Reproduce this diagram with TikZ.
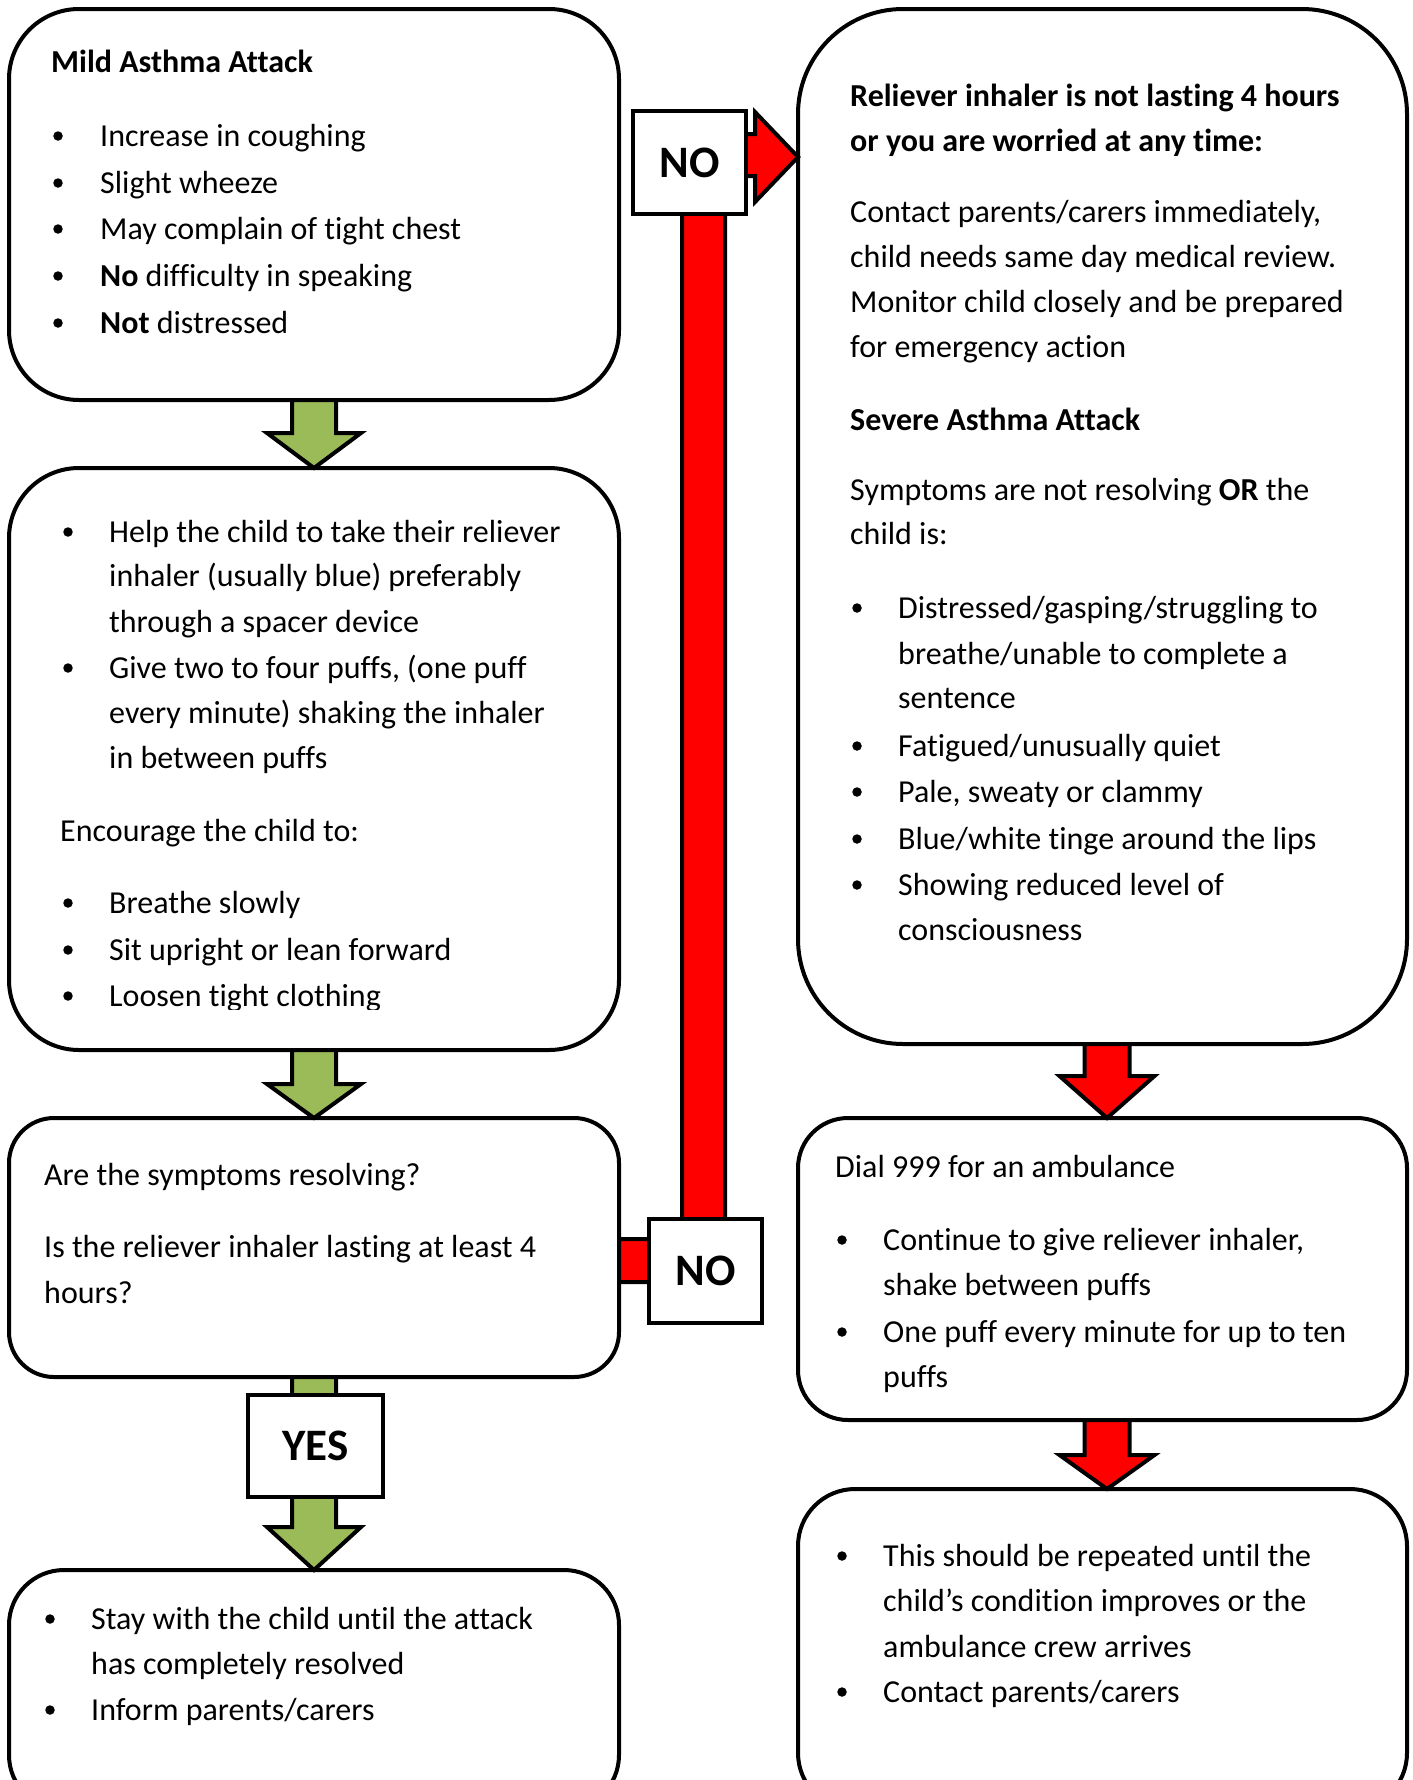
\documentclass[tikz,border=0pt]{standalone}
\usepackage{fontspec}
\setmainfont{Carlito}[Ligatures=NoCommon]
\usetikzlibrary{calc}
\definecolor{agreen}{RGB}{155,187,89}
\definecolor{ared}{RGB}{255,0,0}
\newcounter{lnc}
\newcommand\tl[3]{\stepcounter{lnc}\node[txt] (t\arabic{lnc}) at (#1,{#2+11}) {#3};}
\newcommand\bl[4]{\stepcounter{lnc}\node[bul] (u\arabic{lnc}) at (#1,{#2+1}) {};\node[txt] (t\arabic{lnc}) at (#3,{#2+11}) {#4};}
\begin{document}
\begin{tikzpicture}[x=1pt,y=-1pt,
  box/.style={draw, line width=4pt, fill=white, rounded corners=#1, outer sep=0pt, inner sep=0pt},
  txt/.style={anchor=base west, inner sep=0pt, font=\fontsize{32}{38}\selectfont},
  bul/.style={circle, fill=black, inner sep=0pt, minimum size=9.5pt},
  garrow/.style={draw, line width=4pt, fill=agreen, line join=miter},
  rarrow/.style={draw, line width=4pt, fill=ared, line join=miter},
  tagbox/.style={draw, line width=4pt, fill=white, inner sep=0pt, outer sep=0pt, font=\bfseries\fontsize{45}{50}\selectfont}]
\useasboundingbox (0,0) rectangle (1413,1780);
% boxes
\node[box=70, minimum width=610, minimum height=391] (b1) at (314,204.5) {};
\node[box=70, minimum width=610, minimum height=582] (b2) at (314,759) {};
\node[box=45, minimum width=610, minimum height=259] (b3) at (314,1247.5) {};
\node[box=55, minimum width=610, minimum height=240] (b4) at (314,1690) {};
\node[box=105, minimum width=609, minimum height=1035] (r1) at (1102.5,526.5) {};
\node[box=50, minimum width=609, minimum height=302] (r2) at (1102.5,1269) {};
\node[box=57, minimum width=609, minimum height=321] (r3) at (1102.5,1649.5) {};
% green arrows
\draw[garrow] ($(b1.south)+(-22,0)$) -- ++(0,33) -- ++(-25,0) -- (b2.north) -- ($(b1.south)+(47,33)$) -- ++(-25,0) -- ($(b1.south)+(22,0)$) -- cycle;
\draw[garrow] ($(b2.south)+(-22,0)$) -- ++(0,34) -- ++(-25,0) -- (b3.north) -- ($(b2.south)+(47,34)$) -- ++(-25,0) -- ($(b2.south)+(22,0)$) -- cycle;
\draw[garrow] ($(b3.south)+(-22,0)$) -- ++(0,150) -- ++(-25,0) -- (b4.north) -- ($(b3.south)+(47,150)$) -- ++(-25,0) -- ($(b3.south)+(22,0)$) -- cycle;
% red arrows
\coordinate (r1s) at ($(r1.south)+(4.5,0)$);
\coordinate (r2n) at ($(r2.north)+(4.5,0)$);
\coordinate (r2s) at ($(r2.south)+(4.5,0)$);
\coordinate (r3n) at ($(r3.north)+(4.5,0)$);
\draw[rarrow] ($(r1s)+(-22.5,0)$) -- ++(0,32) -- ++(-25,0) -- (r2n) -- ($(r1s)+(47.5,32)$) -- ++(-25,0) -- ($(r1s)+(22.5,0)$) -- cycle;
\draw[rarrow] ($(r2s)+(-22.5,0)$) -- ++(0,35) -- ++(-25,0) -- (r3n) -- ($(r2s)+(47.5,35)$) -- ++(-25,0) -- ($(r2s)+(22.5,0)$) -- cycle;
% bent red arrow from b3 to r1
\coordinate (nstart) at ($(b3.north east)+(0,121)$);
\coordinate (ntip) at ($(r1.north west)+(0,148)$);
\draw[rarrow] (nstart) -- (682,1239) -- (682,134) -- (755,134) -- (755,112) -- (ntip) -- (755,202) -- (755,176) -- (725,176) -- (725,1282) -- ($(nstart)+(0,43)$) -- cycle;
\node[tagbox, minimum width=113, minimum height=103] (no1) at (689.5,162.5) {NO};
\node[tagbox, minimum width=113, minimum height=104] (no2) at (705.5,1271) {NO};
\node[tagbox, minimum width=135, minimum height=102] (yes) at (315.5,1446) {YES};
% box 1
\tl{51}{61}{\textbf{Mild Asthma Attack}}
\bl{58}{135}{100}{Increase in coughing}
\bl{58}{182}{100}{Slight wheeze}
\bl{58}{228}{100}{May complain of tight chest}
\bl{58}{275}{100}{\textbf{No} difficulty in speaking}
\bl{58}{322}{100}{\textbf{Not} distressed}
% box 2
\bl{68}{531}{109}{Help the child to take their reliever}
\tl{109}{575}{inhaler (usually blue) preferably}
\tl{109}{621}{through a spacer device}
\bl{68}{667}{109}{Give two to four puffs, (one puff}
\tl{109}{712}{every minute) shaking the inhaler}
\tl{109}{757}{in between puffs}
\tl{60}{830}{Encourage the child to:}
\bl{68}{902}{109}{Breathe slowly}
\bl{68}{949}{109}{Sit upright or lean forward}
\begin{scope}
\clip (0,0) rectangle (1413,1009);
\bl{68}{995}{109}{Loosen tight clothing}
\end{scope}
% box 3
\tl{44}{1174}{Are the symptoms resolving?}
\tl{44}{1246}{Is the reliever inhaler lasting at least 4}
\tl{44}{1292}{hours?}
% box 4
\bl{50}{1618}{91}{Stay with the child until the attack}
\tl{91}{1663}{has completely resolved}
\bl{50}{1709}{91}{Inform parents/carers}
% right box 1
\tl{850}{95}{\textbf{Reliever inhaler is not lasting 4 hours}}
\tl{850}{140}{\textbf{or you are worried at any time:}}
\tl{850}{211}{Contact parents/carers immediately,}
\tl{850}{256}{child needs same day medical review.}
\tl{850}{301}{Monitor child closely and be prepared}
\tl{850}{346}{for emergency action}
\tl{850}{419}{\textbf{Severe Asthma Attack}}
\tl{850}{489}{Symptoms are not resolving \textbf{OR} the}
\tl{850}{533}{child is:}
\bl{857}{607}{898}{Distressed/gasping/struggling to}
\tl{898}{653}{breathe/unable to complete a}
\tl{898}{697}{sentence}
\bl{857}{745}{898}{Fatigued/unusually quiet}
\bl{857}{791}{898}{Pale, sweaty or clammy}
\bl{857}{838}{898}{Blue/white tinge around the lips}
\bl{857}{884}{898}{Showing reduced level of}
\tl{898}{929}{consciousness}
% right box 2
\tl{835}{1166}{Dial 999 for an ambulance}
\bl{842}{1239}{883}{Continue to give reliever inhaler,}
\tl{883}{1284}{shake between puffs}
\bl{842}{1331}{883}{One puff every minute for up to ten}
\tl{883}{1376}{puffs}
% right box 3
\bl{842}{1555}{883}{This should be repeated until the}
\tl{883}{1600}{child’s condition improves or the}
\tl{883}{1646}{ambulance crew arrives}
\bl{842}{1691}{883}{Contact parents/carers}
\end{tikzpicture}
\end{document}
